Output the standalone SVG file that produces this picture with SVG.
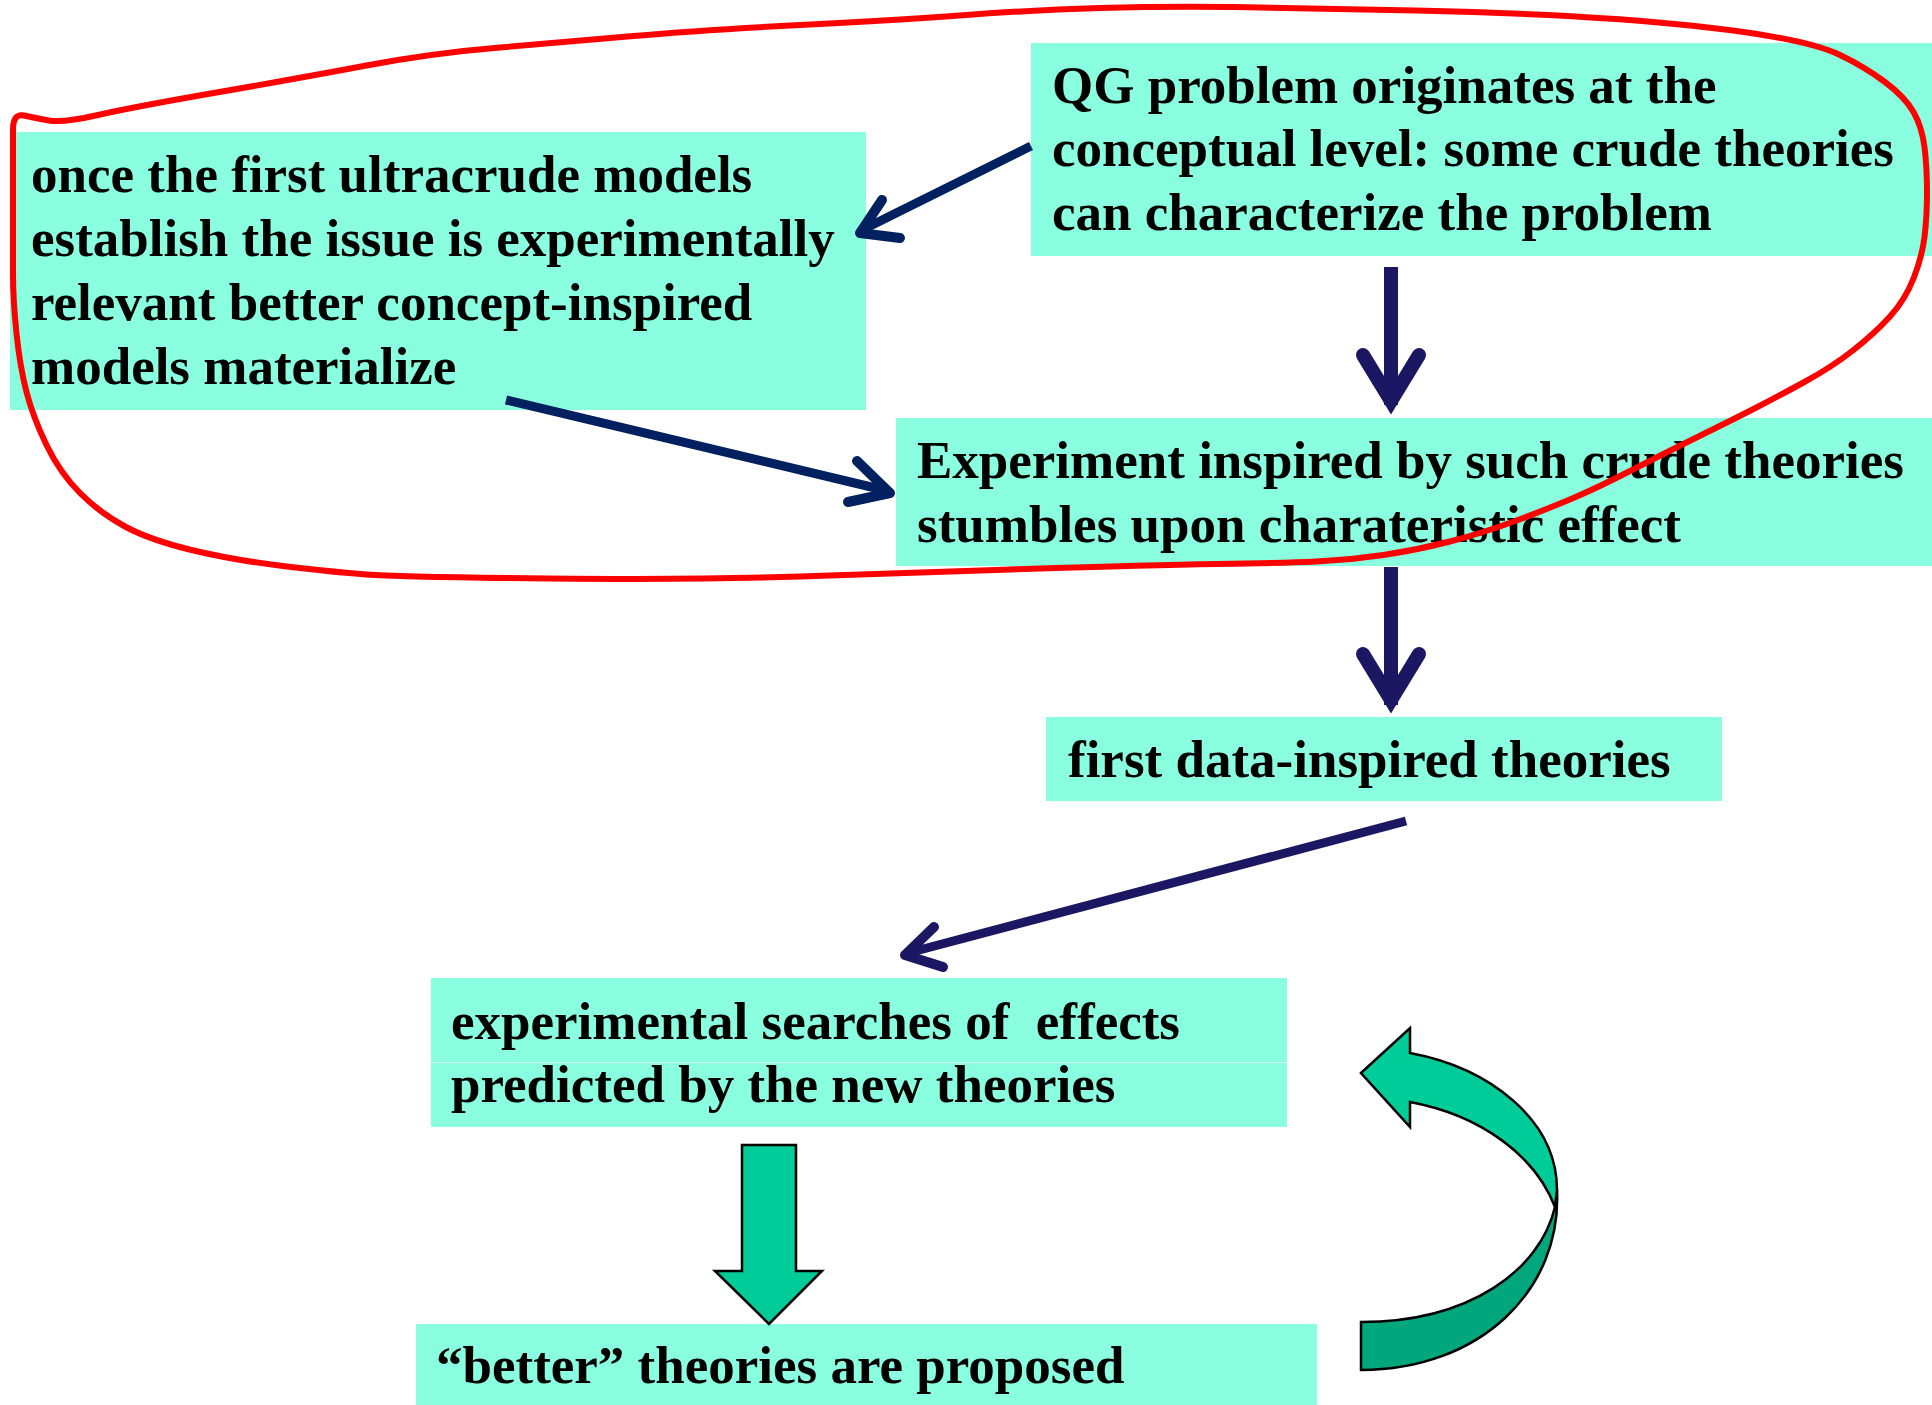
<svg xmlns="http://www.w3.org/2000/svg" width="1932" height="1405" viewBox="0 0 1932 1405">
<style>
.box{fill:#89FFDF}
.t{font-family:"Liberation Serif","Times New Roman",serif;font-weight:bold;font-size:53px;fill:#000}
.nav1{stroke:#002060;fill:none}
.nav2{stroke:#1B1763;fill:none}
.blk{stroke:#000;stroke-width:2.5;stroke-linejoin:miter}
</style>
<rect width="1932" height="1405" fill="#fff"/>
<g id="node-qg">
<rect class="box" x="1031" y="43" width="901" height="213"/>
<text class="t" x="1052" y="103">QG problem originates at the</text>
<text class="t" x="1052" y="166">conceptual level: some crude theories</text>
<text class="t" x="1052" y="230">can characterize the problem</text>
</g>
<g id="node-ultracrude">
<rect class="box" x="10" y="132" width="856" height="278"/>
<text class="t" x="31" y="192">once the first ultracrude models</text>
<text class="t" x="31" y="256">establish the issue is experimentally</text>
<text class="t" x="31" y="320">relevant better concept-inspired</text>
<text class="t" x="31" y="384">models materialize</text>
</g>
<g id="node-experiment">
<rect class="box" x="896" y="418" width="1036" height="148"/>
<text class="t" x="917" y="478">Experiment inspired by such crude theories</text>
<text class="t" x="917" y="542">stumbles upon charateristic effect</text>
</g>
<g id="node-data">
<rect class="box" x="1046" y="717" width="676" height="84"/>
<text class="t" x="1068" y="777">first data-inspired theories</text>
</g>
<g id="node-searches">
<rect class="box" x="431" y="978" width="856" height="149"/>
<line x1="431" y1="1062.5" x2="1287" y2="1062.5" stroke="#D2FFF2" stroke-width="1"/>
<text class="t" x="451" y="1039" xml:space="preserve">experimental searches of  effects</text>
<text class="t" x="451" y="1102">predicted by the new theories</text>
</g>
<g id="node-better">
<rect class="box" x="416" y="1324" width="901" height="81"/>
<text class="t" x="436" y="1383">“better” theories are proposed</text>
</g>
<g id="connectors">
<line class="nav1" x1="1031" y1="146" x2="862" y2="230" stroke-width="9"/>
<path class="nav1" d="M882,200 L860,233 L900,238" stroke-width="10" stroke-linecap="round" stroke-linejoin="round"/>
<line class="nav1" x1="506" y1="400" x2="888" y2="491" stroke-width="9"/>
<path class="nav1" d="M857,461 L890,493 L848,502" stroke-width="10" stroke-linecap="round" stroke-linejoin="round"/>
<line class="nav2" x1="1391" y1="267" x2="1391" y2="405" stroke-width="14"/>
<path class="nav2" d="M1363,355 L1391,401 L1419,355" stroke-width="14" stroke-linecap="round" stroke-linejoin="miter" stroke-miterlimit="10"/>
<line class="nav2" x1="1391" y1="567" x2="1391" y2="705" stroke-width="14"/>
<path class="nav2" d="M1363,654 L1391,700 L1419,654" stroke-width="14" stroke-linecap="round" stroke-linejoin="miter" stroke-miterlimit="10"/>
<line class="nav2" x1="1406" y1="821" x2="908" y2="953" stroke-width="9"/>
<path class="nav2" d="M934,927 L905,955 L943,967" stroke-width="10" stroke-linecap="round" stroke-linejoin="round"/>
<path class="blk" fill="#00CC99" d="M742,1145 L796,1145 L796,1271 L822,1271 L769,1324 L715,1271 L742,1271 Z"/>
<path class="blk" fill="#00A67C" d="M1555,1207 C1540,1270 1470,1322 1361,1322 L1361,1370 C1480,1370 1562,1290 1557,1190 Z"/>
<path class="blk" fill="#00CC99" d="M1361,1073 L1410,1028 L1410,1053 C1490,1068 1557,1120 1557,1190 L1555,1207 C1535,1155 1480,1115 1410,1102 L1410,1127 Z"/>
</g>
<g id="red-loop">
<path fill="none" stroke="#FF0000" stroke-width="6" stroke-linejoin="round" d="M24,115.5 Q35,118 49,120.5 Q63,123 98,115 Q133,107 216.5,92.5 Q300,78 366.5,65.5 Q433,53 500,47.5 Q567,42 633.5,36 Q700,30 800,25 Q900,20 966.5,15 Q1033,10 1100,8 Q1167,6 1233.5,7 Q1300,8 1416,10.5 Q1532,13 1615.5,19 Q1699,25 1757,34 Q1815,43 1840,55 Q1865,67 1885,82 Q1905,97 1913.5,112 Q1922,127 1924.5,147 Q1927,167 1927,192 Q1927,217 1924.5,237 Q1922,257 1913.5,278.5 Q1905,300 1890,316.5 Q1875,333 1853.5,350 Q1832,367 1803.5,382.5 Q1775,398 1753.5,409 Q1732,420 1698.5,436.5 Q1665,453 1632,470 Q1599,487 1574.5,497.5 Q1550,508 1516.5,520.5 Q1483,533 1450,541.5 Q1417,550 1383.5,555 Q1350,560 1316.5,561.5 Q1283,563 1216.5,564 Q1150,565 1025,569 Q900,573 800,576.5 Q700,580 550,578.5 Q400,577 366.5,574.5 Q333,572 283,566 Q233,560 191.5,550 Q150,540 125,526.5 Q100,513 80,493 Q60,473 46.5,445 Q33,417 26.5,392 Q20,367 16.5,333.5 Q13,300 13,273.5 Q13,247 13,197 Q13,147 13,130 Q13,113 24,115.5 Z"/>
</g>
</svg>
